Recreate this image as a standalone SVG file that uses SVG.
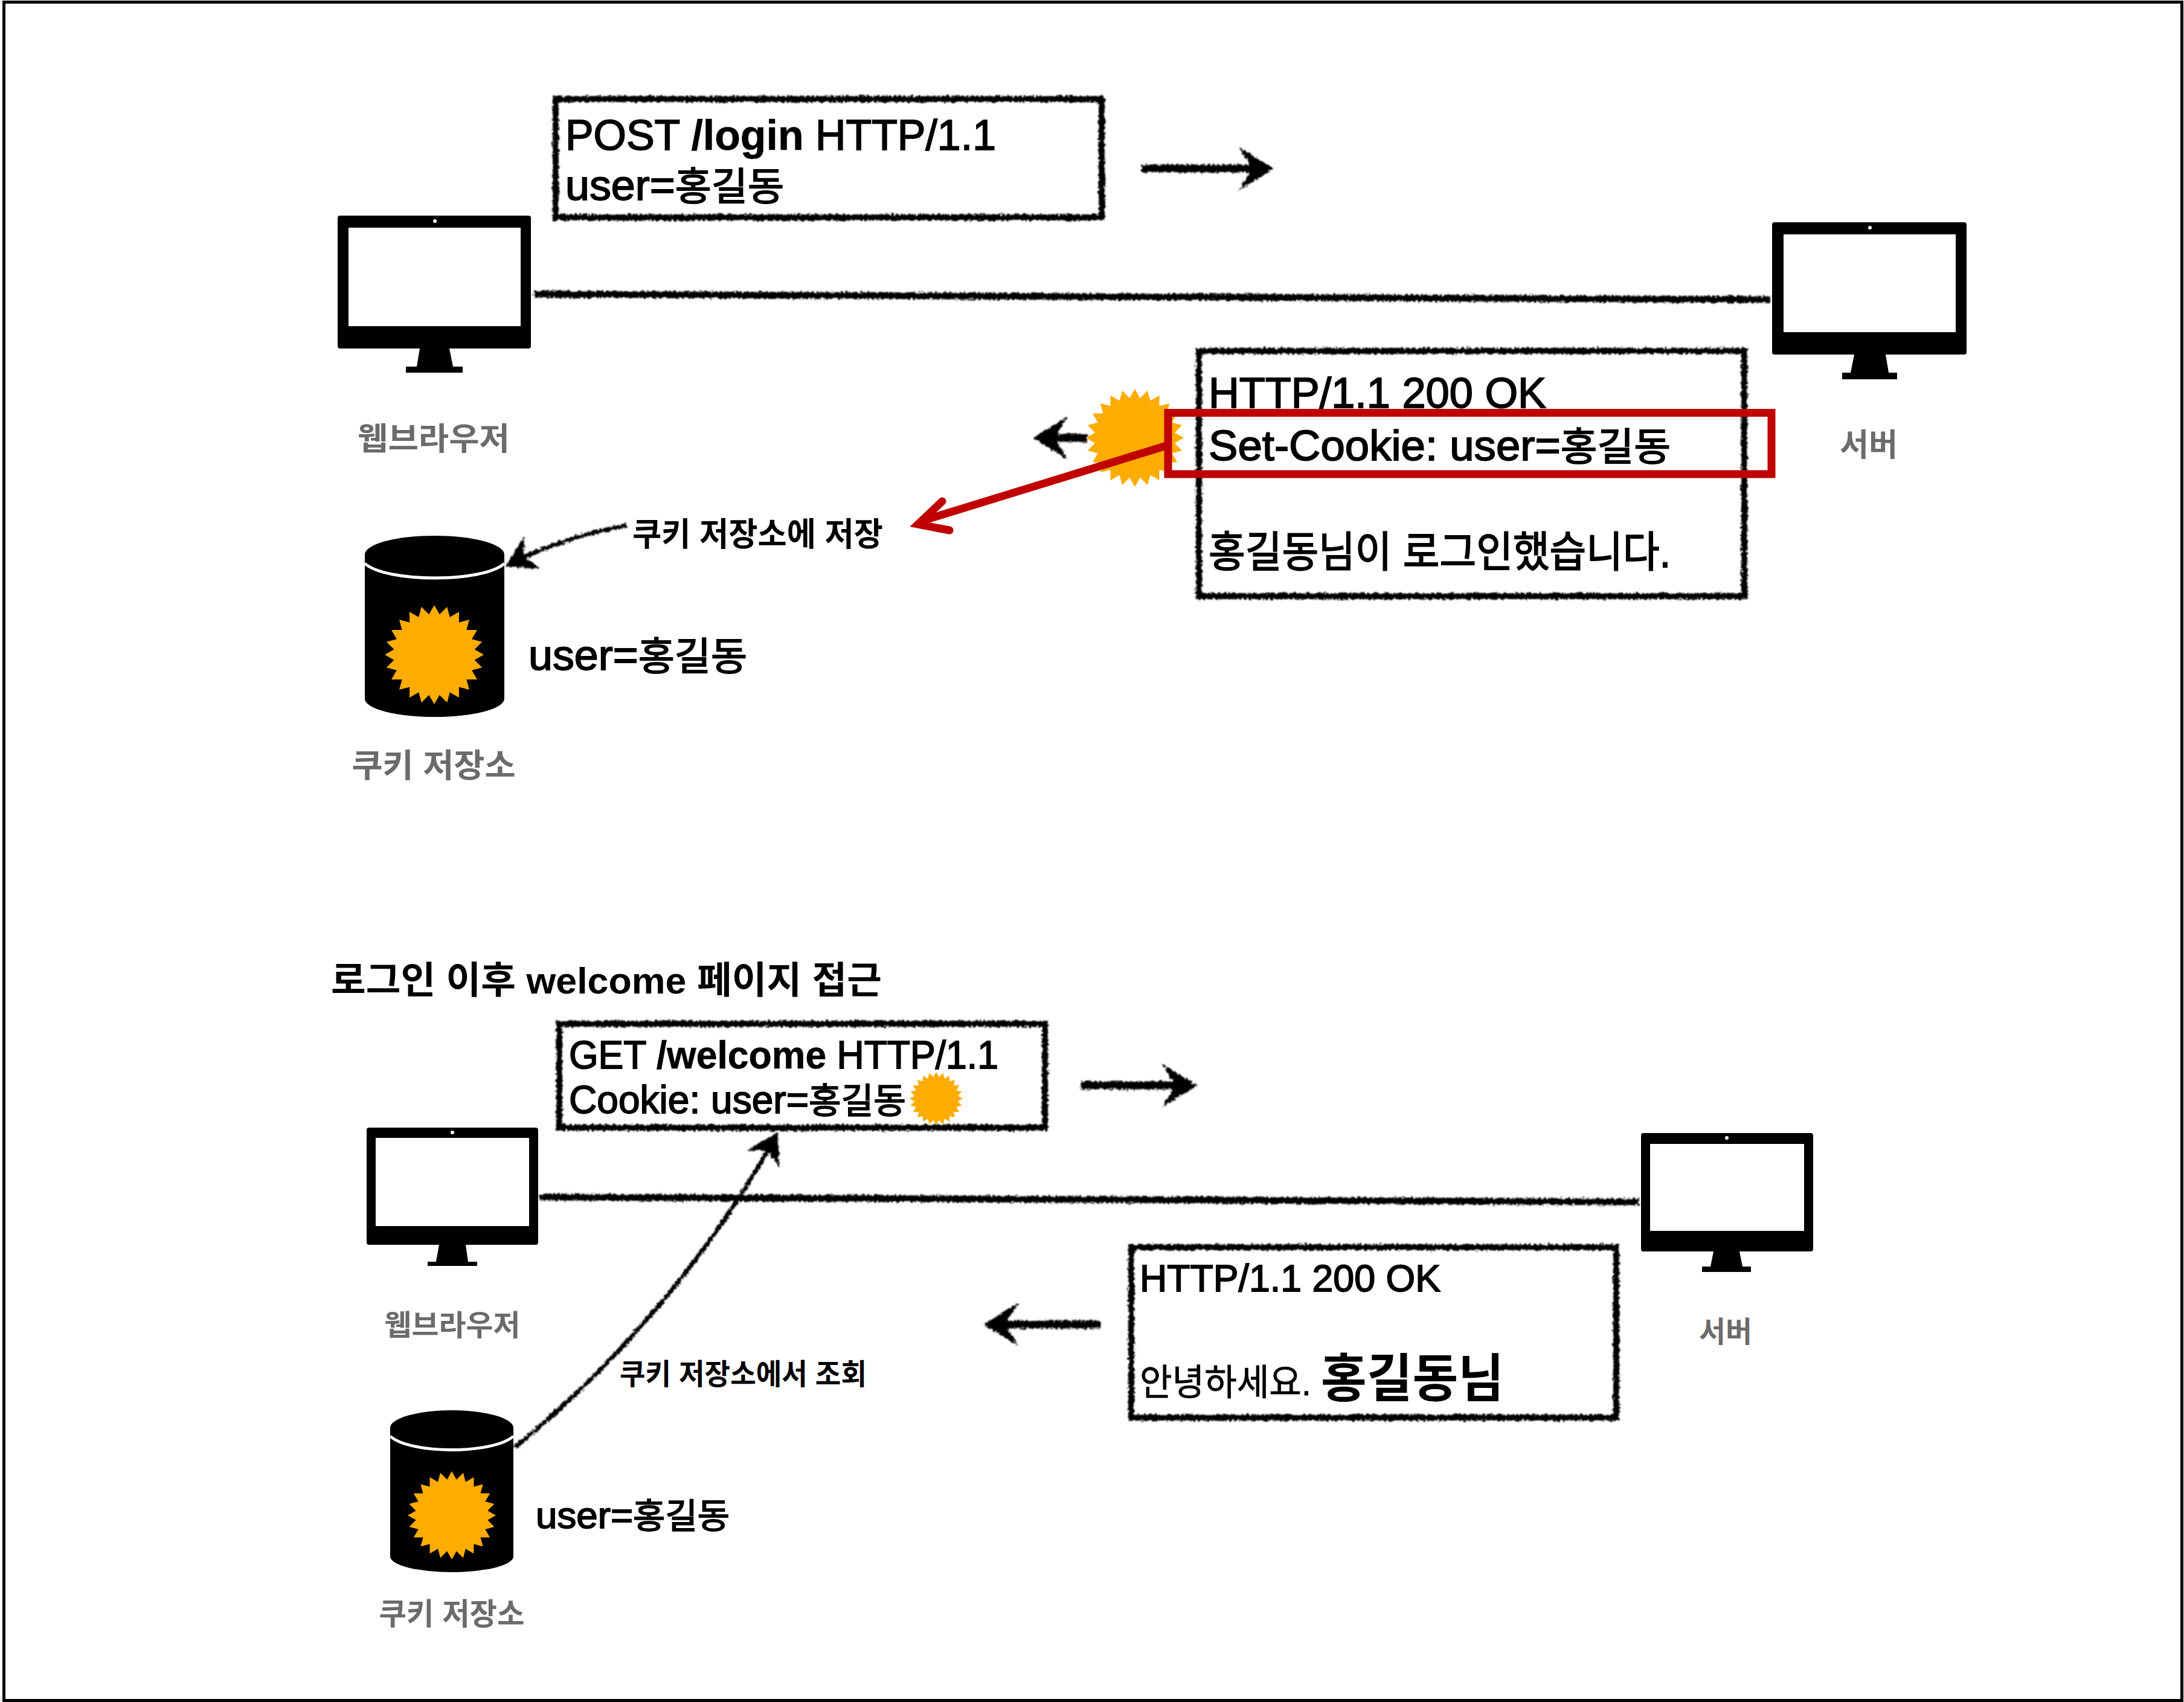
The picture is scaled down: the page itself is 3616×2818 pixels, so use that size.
<svg xmlns="http://www.w3.org/2000/svg" width="3616" height="2818" viewBox="0 0 3616 2818">
<style>
text{font-family:"Liberation Sans","Noto Sans CJK KR",sans-serif;fill:#000;stroke:#000;stroke-width:1.8}
.lab{fill:#6b6b6b;stroke:#6b6b6b;text-anchor:middle;font-weight:700;stroke-width:0}
.b{font-weight:700;stroke-width:0}
.h{font-size:.91em}
.hb{font-weight:700;stroke-width:.6}
.box{fill:none;stroke:#000;stroke-width:10}
.line{fill:none;stroke:#000;stroke-width:11}
.thick{fill:none;stroke:#000;stroke-width:13}
.thin{fill:none;stroke:#000;stroke-width:7}
.k{fill:#000}.w{fill:#fff}
.cook{fill:#FDAC02}
.red{fill:none;stroke:#C00000}
</style>
<defs>
<filter id="rough" filterUnits="userSpaceOnUse" x="0" y="0" width="3616" height="2818">
<feTurbulence type="fractalNoise" baseFrequency="0.25" numOctaves="2" seed="4"/>
<feDisplacementMap in="SourceGraphic" scale="9" xChannelSelector="R" yChannelSelector="G"/>
<feGaussianBlur stdDeviation="0.8"/>
</filter>
<marker id="head" viewBox="0 -38 60 76" refX="46" refY="0" markerWidth="60" markerHeight="76" markerUnits="userSpaceOnUse" orient="auto">
<polygon points="0,-36 58,0 0,36 22,0" fill="#000"/>
</marker>
<marker id="chead" viewBox="0 -32 54 64" refX="42" refY="0" markerWidth="54" markerHeight="64" markerUnits="userSpaceOnUse" orient="auto">
<polygon points="0,-30 50,0 0,30 16,0" fill="#000"/>
</marker>
<polygon id="star" points="0,-100 10.7,-81.3 25.9,-96.6 31.4,-75.8 50,-86.6 49.9,-65.1 70.7,-70.7 65.1,-49.9 86.6,-50 75.8,-31.4 96.6,-25.9 81.3,-10.7 100,0 81.3,10.7 96.6,25.9 75.8,31.4 86.6,50 65.1,49.9 70.7,70.7 49.9,65.1 50,86.6 31.4,75.8 25.9,96.6 10.7,81.3 0,100 -10.7,81.3 -25.9,96.6 -31.4,75.8 -50,86.6 -49.9,65.1 -70.7,70.7 -65.1,49.9 -86.6,50 -75.8,31.4 -96.6,25.9 -81.3,10.7 -100,0 -81.3,-10.7 -96.6,-25.9 -75.8,-31.4 -86.6,-50 -65.1,-49.9 -70.7,-70.7 -49.9,-65.1 -50,-86.6 -31.4,-75.8 -25.9,-96.6 -10.7,-81.3"/>
</defs>
<rect width="3616" height="2818" fill="#fff"/>
<rect id="frame" x="6.5" y="3.5" width="3606" height="2812" fill="none" stroke="#000" stroke-width="5"/>

<g id="connectors">
<g filter="url(#rough)">
<path class="line" d="M884 487 L2931 496"/>
<path class="line" d="M894 1982 L2713 1990"/>
<path class="thick" d="M1890 279 H2097" marker-end="url(#head)"/>
<path class="thick" d="M1800 725 H1722" marker-end="url(#head)"/>
<path class="thick" d="M1789 1797 H1970" marker-end="url(#head)"/>
<path class="thick" d="M1822 2193 H1640" marker-end="url(#head)"/>
<path class="thin" d="M1038 870 C 960 884, 895 908, 844 934" marker-end="url(#chead)"/>
<path class="thin" d="M852 2397 C 1020 2260, 1175 2080, 1284 1882" marker-end="url(#chead)"/>
</g>
</g>

<g id="browser-1">
<path class="k" d="M563 357H875a4 4 0 0 1 4 4V573a4 4 0 0 1-4 4H744L750 607H766V617H672V607H690L695 577H563a4 4 0 0 1-4-4V361a4 4 0 0 1 4-4Z"/>
<rect class="w" x="577" y="377" width="285" height="163"/>
<circle class="w" cx="720" cy="366" r="3"/>
<text class="lab" x="718" y="745" font-size="52" textLength="252" lengthAdjust="spacingAndGlyphs">웹브라우저</text>
</g>

<g id="server-1">
<path class="k" d="M2938 368H3252a4 4 0 0 1 4 4V583a4 4 0 0 1-4 4H3122L3127 617H3141V628H3050V617H3064L3070 587H2938a4 4 0 0 1-4-4V372a4 4 0 0 1 4-4Z"/>
<rect class="w" x="2953" y="388" width="285" height="162"/>
<circle class="w" cx="3096" cy="377" r="3"/>
<text class="lab" x="3094" y="755" font-size="52" textLength="96" lengthAdjust="spacingAndGlyphs">서버</text>
</g>

<g id="request-1">
<rect class="box" filter="url(#rough)" x="920" y="164" width="904" height="196"/>
<text x="936" y="248" font-size="70" textLength="713" lengthAdjust="spacingAndGlyphs">POST <tspan class="hb">/login</tspan> HTTP/1.1</text>
<text x="936" y="331" font-size="70" textLength="362" lengthAdjust="spacingAndGlyphs">user=<tspan class="h">홍길동</tspan></text>
</g>

<g id="response-1">
<use href="#star" class="cook" transform="translate(1879 725) scale(.81)"/>
<rect class="box" filter="url(#rough)" x="1985" y="581" width="903" height="406"/>
<text x="2001" y="675" font-size="70" textLength="559" lengthAdjust="spacingAndGlyphs">HTTP/1.1 200 OK</text>
<text x="2001" y="762" font-size="70" textLength="765" lengthAdjust="spacingAndGlyphs">Set-Cookie: user=<tspan class="h">홍길동</tspan></text>
<text x="2001" y="939" font-size="70" textLength="765" lengthAdjust="spacingAndGlyphs">홍길동님이 로그인했습니다.</text>
</g>

<g id="store-1">
<path class="k" d="M604 918A115.500 31 0 0 1 835 918V1157A115.500 30 0 0 1 604 1157Z"/>
<path fill="none" stroke="#fff" stroke-width="5" d="M604 933C640 965 800 965 835 933"/>
<use href="#star" class="cook" transform="translate(719 1084) scale(.82)"/>
<text class="lab" x="718" y="1287" font-size="54" textLength="271" lengthAdjust="spacingAndGlyphs">쿠키 저장소</text>
<text x="875" y="1109" font-size="70" textLength="362" lengthAdjust="spacingAndGlyphs">user=<tspan class="h">홍길동</tspan></text>
</g>

<g id="store-label-1">
<text class="b" x="1047" y="904" font-size="54" textLength="415" lengthAdjust="spacingAndGlyphs">쿠키 저장소에 저장</text>
</g>

<g id="highlight">
<rect class="red" style="stroke-width:13" x="1934" y="683.500" width="999" height="101.500"/>
<path class="red" style="stroke-width:13" d="M1931 738L1528 862"/>
<path class="red" style="stroke-width:13;stroke-linecap:round" d="M1560 830L1520 868L1572 878"/>
</g>

<g id="title">
<text class="b" x="548" y="1645" font-size="62" textLength="912" lengthAdjust="spacingAndGlyphs">로그인 이후 welcome 페이지 접근</text>
</g>

<g id="browser-2">
<path class="k" d="M611 1867H887a4 4 0 0 1 4 4V2057a4 4 0 0 1-4 4H771L775 2089H790V2096H708V2089H722L727 2061H611a4 4 0 0 1-4-4V1871a4 4 0 0 1 4-4Z"/>
<rect class="w" x="622" y="1884" width="254" height="146"/>
<circle class="w" cx="749" cy="1875" r="3"/>
<text class="lab" x="749" y="2211" font-size="48" textLength="225" lengthAdjust="spacingAndGlyphs">웹브라우저</text>
</g>

<g id="server-2">
<path class="k" d="M2721 1876H2998a4 4 0 0 1 4 4V2068a4 4 0 0 1-4 4H2880L2885 2097H2899V2106H2818V2097H2832L2837 2072H2721a4 4 0 0 1-4-4V1880a4 4 0 0 1 4-4Z"/>
<rect class="w" x="2732" y="1894" width="255" height="144"/>
<circle class="w" cx="2859" cy="1884" r="3"/>
<text class="lab" x="2857" y="2222" font-size="48" textLength="88" lengthAdjust="spacingAndGlyphs">서버</text>
</g>

<g id="request-2">
<rect class="box" filter="url(#rough)" x="926" y="1695" width="804" height="172"/>
<text x="942" y="1769" font-size="64" textLength="711" lengthAdjust="spacingAndGlyphs">GET <tspan class="hb">/welcome</tspan> HTTP/1.1</text>
<text x="942" y="1843" font-size="64" textLength="558" lengthAdjust="spacingAndGlyphs">Cookie: user=<tspan class="h">홍길동</tspan></text>
<use href="#star" class="cook" transform="translate(1550 1819) scale(.44)"/>
</g>

<g id="response-2">
<rect class="box" filter="url(#rough)" x="1873" y="2065" width="803" height="282"/>
<text x="1887" y="2138" font-size="63" textLength="498" lengthAdjust="spacingAndGlyphs">HTTP/1.1 200 OK</text>
<text x="1887" y="2310" font-size="60" textLength="284" lengthAdjust="spacingAndGlyphs" style="stroke-width:.8">안녕하세요.</text>
<text class="b" x="2187" y="2313" font-size="86" textLength="303" lengthAdjust="spacingAndGlyphs">홍길동님</text>
</g>

<g id="store-2">
<path class="k" d="M646 2364A102 29 0 0 1 850 2364V2577A102 26 0 0 1 646 2577Z"/>
<path fill="none" stroke="#fff" stroke-width="5" d="M646 2378C680 2408 816 2408 850 2378"/>
<use href="#star" class="cook" transform="translate(748 2509) scale(.73)"/>
<text class="lab" x="748" y="2690" font-size="50" textLength="241" lengthAdjust="spacingAndGlyphs">쿠키 저장소</text>
<text x="887" y="2530" font-size="62" textLength="321" lengthAdjust="spacingAndGlyphs">user=<tspan class="h">홍길동</tspan></text>
</g>

<g id="store-label-2">
<text class="b" x="1026" y="2292" font-size="48" textLength="409" lengthAdjust="spacingAndGlyphs">쿠키 저장소에서 조회</text>
</g>
</svg>
